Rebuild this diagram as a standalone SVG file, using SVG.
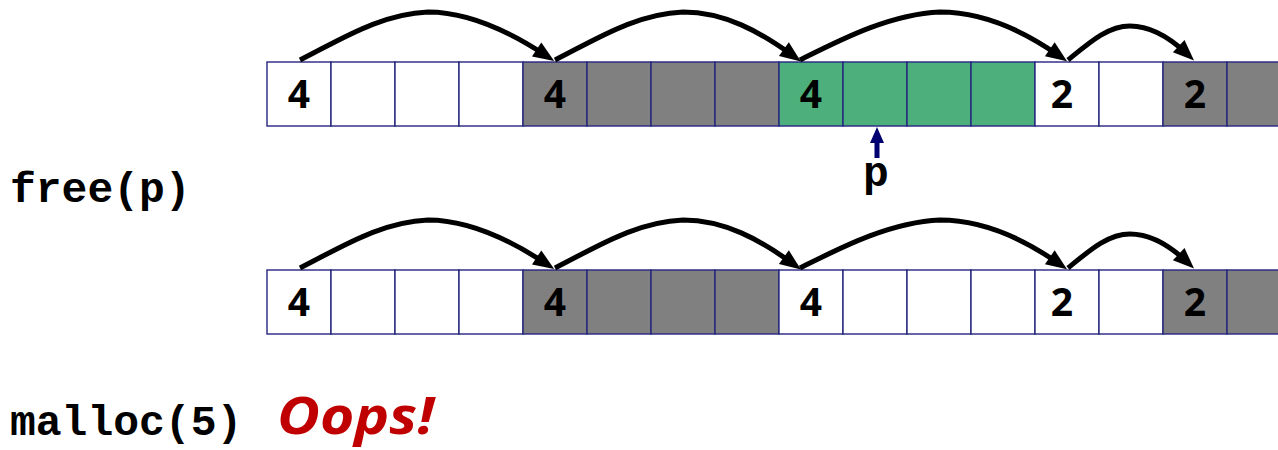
<svg xmlns="http://www.w3.org/2000/svg" width="1278" height="450" viewBox="0 0 1278 450">
<style>
.c{stroke:#262680;stroke-width:1.4}
.w{fill:#ffffff}
.g{fill:#808080}
.gr{fill:#4DAF7C}
.num{font-family:"Open Sans","Liberation Sans",sans-serif;font-weight:bold;font-size:39px;fill:#000;text-anchor:middle}
.mono{font-family:"Liberation Mono","DejaVu Sans Mono",monospace;font-weight:bold;font-size:43px;fill:#000}
.arc{fill:none;stroke:#000;stroke-width:5;marker-end:url(#ah)}
</style>
<defs>
<marker id="ah" markerUnits="userSpaceOnUse" markerWidth="21" markerHeight="17" refX="10" refY="8.5" orient="auto" overflow="visible">
<path d="M0,0 L21,8.5 L0,17 z" fill="#000"/>
</marker>
</defs>
<rect width="1278" height="450" fill="#ffffff"/>

<!-- Row 1 -->
<g id="r1-block1">
<rect class="c w" x="267" y="62" width="64" height="64"/>
<rect class="c w" x="331" y="62" width="64" height="64"/>
<rect class="c w" x="395" y="62" width="64" height="64"/>
<rect class="c w" x="459" y="62" width="64" height="64"/>
<text class="num" x="299" y="108">4</text>
</g>
<g id="r1-block2">
<rect class="c g" x="523" y="62" width="64" height="64"/>
<rect class="c g" x="587" y="62" width="64" height="64"/>
<rect class="c g" x="651" y="62" width="64" height="64"/>
<rect class="c g" x="715" y="62" width="64" height="64"/>
<text class="num" x="555" y="108">4</text>
</g>
<g id="r1-block3">
<rect class="c gr" x="779" y="62" width="64" height="64"/>
<rect class="c gr" x="843" y="62" width="64" height="64"/>
<rect class="c gr" x="907" y="62" width="64" height="64"/>
<rect class="c gr" x="971" y="62" width="64" height="64"/>
<text class="num" x="811" y="108">4</text>
</g>
<g id="r1-block4">
<rect class="c w" x="1035" y="62" width="64" height="64"/>
<rect class="c w" x="1099" y="62" width="64" height="64"/>
<text class="num" x="1062" y="108">2</text>
</g>
<g id="r1-block5">
<rect class="c g" x="1163" y="62" width="64" height="64"/>
<rect class="c g" x="1227" y="62" width="64" height="64"/>
<text class="num" x="1195" y="108">2</text>
</g>

<!-- Row 2 -->
<g id="r2-block1">
<rect class="c w" x="267" y="270" width="64" height="64"/>
<rect class="c w" x="331" y="270" width="64" height="64"/>
<rect class="c w" x="395" y="270" width="64" height="64"/>
<rect class="c w" x="459" y="270" width="64" height="64"/>
<text class="num" x="299" y="316">4</text>
</g>
<g id="r2-block2">
<rect class="c g" x="523" y="270" width="64" height="64"/>
<rect class="c g" x="587" y="270" width="64" height="64"/>
<rect class="c g" x="651" y="270" width="64" height="64"/>
<rect class="c g" x="715" y="270" width="64" height="64"/>
<text class="num" x="555" y="316">4</text>
</g>
<g id="r2-block3">
<rect class="c w" x="779" y="270" width="64" height="64"/>
<rect class="c w" x="843" y="270" width="64" height="64"/>
<rect class="c w" x="907" y="270" width="64" height="64"/>
<rect class="c w" x="971" y="270" width="64" height="64"/>
<text class="num" x="811" y="316">4</text>
</g>
<g id="r2-block4">
<rect class="c w" x="1035" y="270" width="64" height="64"/>
<rect class="c w" x="1099" y="270" width="64" height="64"/>
<text class="num" x="1062" y="316">2</text>
</g>
<g id="r2-block5">
<rect class="c g" x="1163" y="270" width="64" height="64"/>
<rect class="c g" x="1227" y="270" width="64" height="64"/>
<text class="num" x="1195" y="316">2</text>
</g>

<!-- Connectors -->
<g id="connectors">
<path class="arc" d="M300,60 C340,40 380,14 428,12 C470,12 510,32 545,55"/>
<path class="arc" d="M555,60 C595,40 635,14 683,12 C725,12 760,32 792,55"/>
<path class="arc" d="M800,60 C840,40 890,14 940,12 C985,12 1025,32 1058,55"/>
<path class="arc" d="M1068,60 C1090,42 1108,26 1130,26 C1152,26 1170,38 1186,53"/>
<path class="arc" d="M300,268 C340,248 380,222 428,220 C470,220 510,240 545,263"/>
<path class="arc" d="M555,268 C595,248 635,222 683,220 C725,220 760,240 792,263"/>
<path class="arc" d="M800,268 C840,248 890,222 940,220 C985,220 1025,240 1058,263"/>
<path class="arc" d="M1068,268 C1090,250 1108,234 1130,234 C1152,234 1170,246 1186,261"/>
</g>

<g id="pointer-p">
<rect x="874.5" y="140" width="5" height="18" fill="#000070"/>
<path d="M877,127 L884,143 L870,143 z" fill="#000070"/>
<text class="mono" x="876" y="186" text-anchor="middle" font-size="40">p</text>
</g>

<g id="label-free">
<text class="mono" x="10" y="202">free(p)</text>
</g>
<g id="label-malloc">
<text class="mono" x="10" y="435">malloc(5)</text>
</g>
<g id="label-oops">
<text x="277" y="434" font-family="'Open Sans','Liberation Sans',sans-serif" font-weight="bold" font-style="italic" font-size="52" fill="#C00000" textLength="157" lengthAdjust="spacingAndGlyphs">Oops!</text>
</g>
</svg>
